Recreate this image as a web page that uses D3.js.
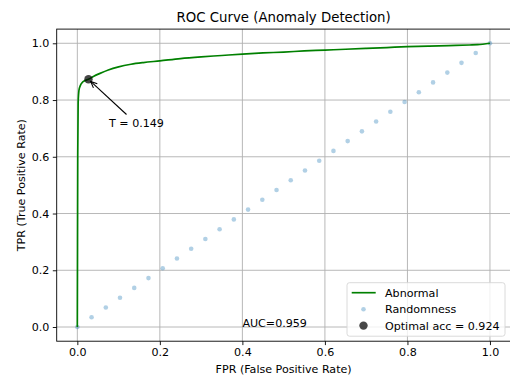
<!DOCTYPE html>
<html>
<head>
<meta charset="utf-8">
<script src="https://cdn.jsdelivr.net/npm/d3@7"></script>
<style>
  html, body { margin: 0; padding: 0; background: #fff; }
  svg { display: block; font-family: "DejaVu Sans", sans-serif; }
</style>
</head>
<body>
<svg id="chart" width="510" height="376"></svg>
<script>
// ---- data ----
const fpr = [0, 0.0005, 0.001, 0.002, 0.004, 0.007, 0.012, 0.018, 0.027, 0.04, 0.055, 0.075, 0.1, 0.13, 0.16, 0.2, 0.25, 0.3, 0.35, 0.4, 0.45, 0.5, 0.55, 0.6, 0.65, 0.7, 0.75, 0.8, 0.85, 0.9, 0.95, 0.97, 1.0];
const tpr = [0, 0.3, 0.6, 0.79, 0.835, 0.85, 0.862, 0.868, 0.873, 0.884, 0.894, 0.906, 0.917, 0.926, 0.932, 0.938, 0.946, 0.952, 0.957, 0.962, 0.966, 0.969, 0.973, 0.976, 0.979, 0.982, 0.985, 0.988, 0.990, 0.992, 0.994, 0.995, 1.0];
const randomX = [0, 0.0345, 0.069, 0.1034, 0.1379, 0.1724, 0.2069, 0.2414, 0.2759, 0.3103, 0.3448, 0.3793, 0.4138, 0.4483, 0.4828, 0.5172, 0.5517, 0.5862, 0.6207, 0.6552, 0.6897, 0.7241, 0.7586, 0.7931, 0.8276, 0.8621, 0.8966, 0.931, 0.9655, 1.0];
const randomY = randomX.slice();
const optimal = { fpr: 0.027, tpr: 0.873, threshold: 0.149, acc: 0.924 };
const auc = 0.959;
const ticks = [0.0, 0.2, 0.4, 0.6, 0.8, 1.0];
const legendLabels = ["Abnormal", "Randomness", "Optimal acc = 0.924"];

// ---- layout ----
const svg = d3.select("#chart");
const L = 56.7, R = 510.6, T = 29.1, B = 341.2;
const x = d3.scaleLinear().domain([-0.05, 1.05]).range([L, R]);
const y = d3.scaleLinear().domain([-0.05, 1.05]).range([B, T]);
const fontSize = 11.1;

// grid
const g = svg.append("g");
g.selectAll("line.gx").data(ticks).enter().append("line")
  .attr("x1", d => x(d)).attr("x2", d => x(d)).attr("y1", T).attr("y2", B)
  .attr("stroke", "#b0b0b0").attr("stroke-width", 0.9);
g.selectAll("line.gy").data(ticks).enter().append("line")
  .attr("y1", d => y(d)).attr("y2", d => y(d)).attr("x1", L).attr("x2", R)
  .attr("stroke", "#b0b0b0").attr("stroke-width", 0.9);

// axes
const xAxis = d3.axisBottom(x).tickValues(ticks).tickFormat(d3.format(".1f")).tickSize(3.9).tickPadding(3.5);
const yAxis = d3.axisLeft(y).tickValues(ticks).tickFormat(d3.format(".1f")).tickSize(3.9).tickPadding(3.5);
const gx = svg.append("g").attr("transform", `translate(0,${B})`).call(xAxis);
const gy = svg.append("g").attr("transform", `translate(${L},0)`).call(yAxis);
[gx, gy].forEach(a => {
  a.select(".domain").remove();
  a.selectAll("text").attr("font-size", fontSize).attr("font-family", "DejaVu Sans").attr("fill", "#000");
  a.selectAll("line").attr("stroke", "#000").attr("stroke-width", 0.9);
});

// random dots
svg.append("g").selectAll("circle").data(randomX).enter().append("circle")
  .attr("cx", d => x(d)).attr("cy", (d, i) => y(randomY[i])).attr("r", 2.3)
  .attr("fill", "#1f77b4").attr("fill-opacity", 0.35);

// ROC curve
const line = d3.line().x(d => x(d[0])).y(d => y(d[1])).curve(d3.curveMonotoneX);
svg.append("path").datum(fpr.map((f, i) => [f, tpr[i]]))
  .attr("d", line).attr("fill", "none").attr("stroke", "#008000").attr("stroke-width", 1.67);

// optimal point
svg.append("circle").attr("cx", x(optimal.fpr)).attr("cy", y(optimal.tpr)).attr("r", 4.2)
  .attr("fill", "#000").attr("fill-opacity", 0.72);

// annotation arrow
const ax0 = 126.5, ay0 = 114.5;
const ax1 = x(optimal.fpr) + 2.2, ay1 = y(optimal.tpr) + 2.1;
svg.append("line").attr("x1", ax0).attr("y1", ay0).attr("x2", ax1).attr("y2", ay1)
  .attr("stroke", "#000").attr("stroke-width", 1.1);
const ang = Math.atan2(ay0 - ay1, ax0 - ax1);
const hl = 7, hw = 0.42;
svg.append("path")
  .attr("d", `M${ax1 + hl * Math.cos(ang - hw)},${ay1 + hl * Math.sin(ang - hw)}L${ax1},${ay1}L${ax1 + hl * Math.cos(ang + hw)},${ay1 + hl * Math.sin(ang + hw)}`)
  .attr("fill", "none").attr("stroke", "#000").attr("stroke-width", 1.1);
svg.append("text").attr("x", 136.5).attr("y", 126.7).attr("text-anchor", "middle")
  .attr("font-size", fontSize).text("T = " + optimal.threshold);

// AUC text
svg.append("text").attr("x", x(0.4)).attr("y", y(0)).attr("font-size", fontSize)
  .text("AUC=" + auc);

// frame
svg.append("rect").attr("x", L).attr("y", T).attr("width", R - L).attr("height", B - T)
  .attr("fill", "none").attr("stroke", "#000").attr("stroke-width", 0.9);

// title & labels
svg.append("text").attr("x", (L + R) / 2).attr("y", 22.4).attr("text-anchor", "middle")
  .attr("font-size", 13.3).text("ROC Curve (Anomaly Detection)");
svg.append("text").attr("x", (L + R) / 2).attr("y", 373).attr("text-anchor", "middle")
  .attr("font-size", fontSize).text("FPR (False Positive Rate)");
svg.append("text").attr("transform", `translate(24.5,${(T + B) / 2}) rotate(-90)`)
  .attr("text-anchor", "middle").attr("font-size", fontSize).text("TPR (True Positive Rate)");

// legend
const lg = svg.append("g");
lg.append("rect").attr("x", 347).attr("y", 282.7).attr("width", 158).attr("height", 53.5)
  .attr("rx", 2.5).attr("fill", "#fff").attr("fill-opacity", 0.8)
  .attr("stroke", "#d6d6d6").attr("stroke-width", 0.9);
const rows = [292.7, 309.3, 325.6];
lg.append("line").attr("x1", 351.7).attr("x2", 375.7).attr("y1", rows[0]).attr("y2", rows[0])
  .attr("stroke", "#008000").attr("stroke-width", 1.67);
lg.append("circle").attr("cx", 363.5).attr("cy", rows[1]).attr("r", 2.3)
  .attr("fill", "#1f77b4").attr("fill-opacity", 0.35);
lg.append("circle").attr("cx", 363.5).attr("cy", rows[2]).attr("r", 4.2)
  .attr("fill", "#000").attr("fill-opacity", 0.72);
lg.selectAll("text").data(legendLabels).enter().append("text")
  .attr("x", 385).attr("y", (d, i) => rows[i]).attr("dy", "0.36em")
  .attr("font-size", fontSize).text(d => d);
</script>
</body>
</html>
